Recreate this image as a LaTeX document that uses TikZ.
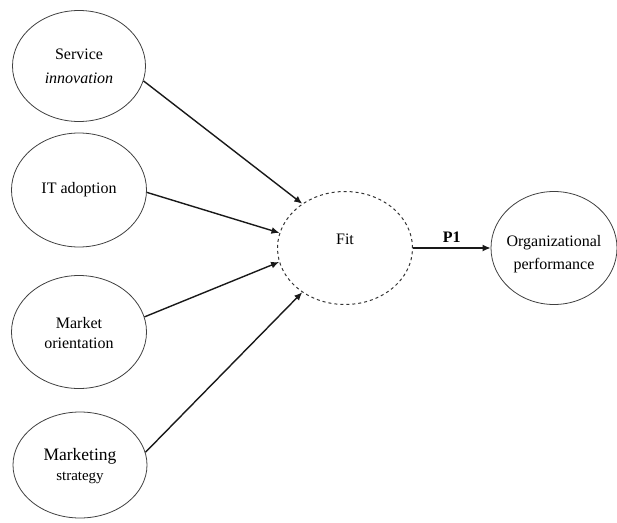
\documentclass[tikz,border=0pt]{standalone}
\usepackage{fontspec}
\setmainfont{Liberation Serif}
\usetikzlibrary{shapes.geometric,arrows.meta}
\begin{document}
\begin{tikzpicture}[x=1pt,y=-1pt,
  oval/.style={ellipse,draw=black!75,line width=0.8pt,inner sep=0pt},
  ovaltext/.style={align=center,font=\fontsize{16}{22}\selectfont},
  link/.style={draw=black!90,line width=1.4pt,-{Latex[length=8pt,width=7pt]}}]
\useasboundingbox (0,0) rectangle (617,522);
\node[oval,minimum width=133pt,minimum height=111pt] (si) at (79,66) {};
\node[ovaltext,font=\fontsize{16}{24}\selectfont] (sit) at (79,66) {Service\\\textit{innovation}};
\node[oval,minimum width=135pt,minimum height=114pt] (it) at (79,190) {};
\node[ovaltext] (itt) at (79,190) {IT adoption};
\node[oval,minimum width=135pt,minimum height=113pt] (mo) at (79,332) {};
\node[ovaltext,font=\fontsize{16}{20}\selectfont] (mot) at (79,333) {Market\\orientation};
\node[oval,minimum width=134pt,minimum height=106pt] (ms) at (80,465) {};
\node[ovaltext,font=\fontsize{16}{20}\selectfont] (mst) at (80,466) {{\fontsize{17.5}{20}\selectfont Marketing}\\{\fontsize{15}{20}\selectfont strategy}};
\node[ellipse,draw=black!80,line width=1pt,dash pattern=on 3pt off 3pt,inner sep=0pt,minimum width=135pt,minimum height=113pt] (fit) at (345,248) {};
\node[ovaltext] (fitt) at (345,239) {Fit};
\node[oval,minimum width=126pt,minimum height=113pt] (op) at (554,248) {};
\node[ovaltext,font=\fontsize{16}{23}\selectfont] (opt) at (554,254) {Organizational\\performance};
\draw[link] (si.-13) -- (fit.134);
\draw[link] (it.-2) -- (fit.167);
\draw[link] (mo.13) -- (fit.-168);
\draw[link] (ms.11) -- (fit.-134);
\draw[link] (fit.east) -- node[above=1pt,font=\fontsize{16}{18}\selectfont\bfseries] (p1) {P1} (op.west);
\end{tikzpicture}
\end{document}
